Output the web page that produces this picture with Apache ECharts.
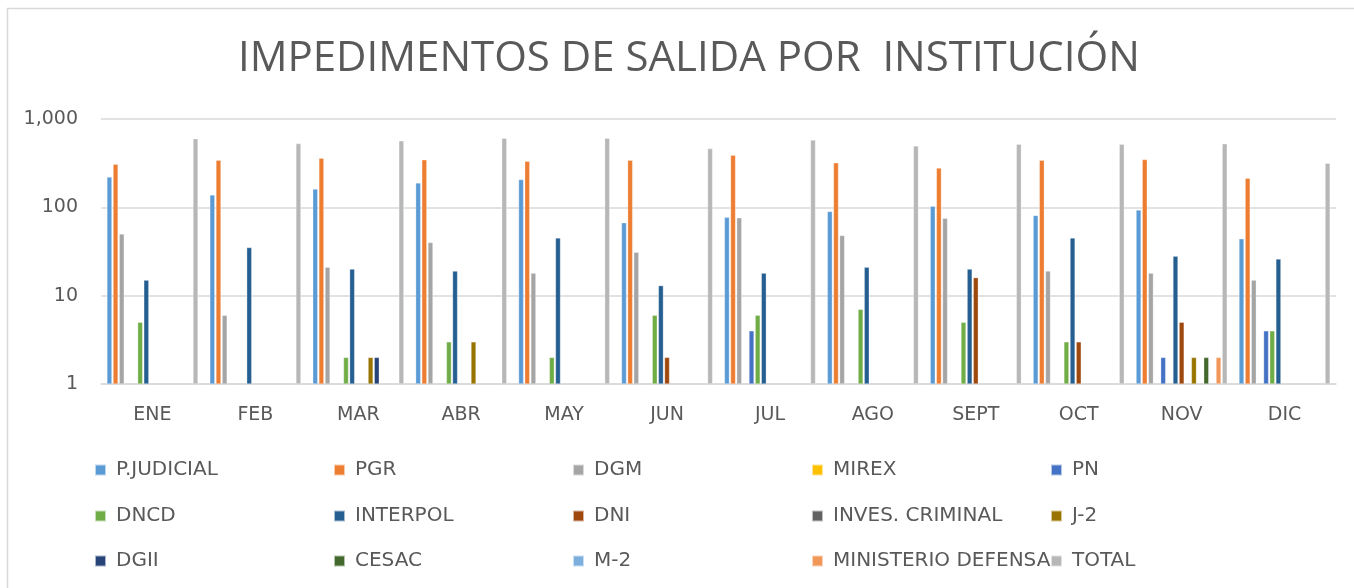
<!DOCTYPE html>
<html>
<head>
<meta charset="utf-8">
<script src="https://cdn.jsdelivr.net/npm/echarts@6/dist/echarts.min.js"></script>
<style>
	html, body { margin: 0; padding: 0; background: #fff; }
	#chart { width: 1354px; height: 588px; }
</style>
</head>
<body>
<div id="chart"></div>
<script>
const months = ["ENE", "FEB", "MAR", "ABR", "MAY", "JUN", "JUL", "AGO", "SEPT", "OCT", "NOV", "DIC"];
const yTicks = [1, 10, 100, 1000];

// '-' = no value that month
const pJudicial = [220, 138, 161, 189, 206, 67, 77, 90, 103, 81, 93, 44];
const pgr = [308, 342, 360, 345, 333, 342, 389, 319, 278, 342, 347, 214];
const dgm = [50, 6, 21, 40, 18, 31, 76, 48, 75, 19, 18, 15];
const mirex = ["-", "-", "-", "-", "-", "-", "-", "-", "-", "-", "-", "-"];
const pn = ["-", "-", "-", "-", "-", "-", 4, "-", "-", "-", 2, 4];
const dncd = [5, "-", 2, 3, 2, 6, 6, 7, 5, 3, "-", 4];
const interpol = [15, 35, 20, 19, 45, 13, 18, 21, 20, 45, 28, 26];
const dni = ["-", "-", "-", "-", "-", 2, "-", "-", 16, 3, 5, "-"];
const invesCriminal = ["-", "-", "-", "-", "-", "-", "-", "-", "-", "-", "-", "-"];
const j2 = ["-", "-", 2, 3, "-", "-", "-", "-", "-", "-", 2, "-"];
const dgii = ["-", "-", 2, "-", "-", "-", "-", "-", "-", "-", "-", "-"];
const cesac = ["-", "-", "-", "-", "-", "-", "-", "-", "-", "-", 2, "-"];
const m2 = ["-", "-", "-", "-", "-", "-", "-", "-", "-", "-", "-", "-"];
const ministerioDefensa = ["-", "-", "-", "-", "-", "-", "-", "-", "-", "-", 2, "-"];
const total = [598, 527, 566, 605, 606, 462, 578, 496, 519, 519, 523, 316];

const seriesDefs = [
	["P.JUDICIAL", pJudicial, "#5B9BD5"],
	["PGR", pgr, "#ED7D31"],
	["DGM", dgm, "#A5A5A5"],
	["MIREX", mirex, "#FFC000"],
	["PN", pn, "#4472C4"],
	["DNCD", dncd, "#70AD47"],
	["INTERPOL", interpol, "#255E91"],
	["DNI", dni, "#9E480E"],
	["INVES. CRIMINAL", invesCriminal, "#636363"],
	["J-2", j2, "#997300"],
	["DGII", dgii, "#264478"],
	["CESAC", cesac, "#43682B"],
	["M-2", m2, "#7CAFDD"],
	["MINISTERIO DEFENSA", ministerioDefensa, "#F1975A"],
	["TOTAL", total, "#B7B7B7"]
];

const font = "'DejaVu Sans', sans-serif";
const titleFont = "'Open Sans', 'Noto Sans', sans-serif";
const textColor = "#595959";

// one legend per entry so the five columns line up like the original
const legendRows = [460, 506, 551];
const legendColumn = 239;
const legends = seriesDefs.map(([name], i) => ({
	data: [name],
	left: 94 + (i % 5) * legendColumn,
	top: legendRows[Math.floor(i / 5)],
	padding: 0,
	itemWidth: 11,
	itemHeight: 11,
	icon: "rect",
	selectedMode: false,
	textStyle: {
		fontFamily: font,
		fontSize: 20,
		color: textColor,
		padding: [0, 0, 0, 5]
	}
}));

const chart = echarts.init(document.getElementById("chart"), null, { renderer: "canvas" });
chart.setOption({
	animation: false,
	backgroundColor: "#fff",
	color: seriesDefs.map(d => d[2]),
	title: {
		text: "IMPEDIMENTOS DE SALIDA POR  INSTITUCIÓN",
		left: 233,
		top: 33,
		textStyle: {
			fontFamily: titleFont,
			fontWeight: "normal",
			fontSize: 42,
			color: textColor
		}
	},
	graphic: [{
		type: "rect",
		shape: { x: 7.5, y: 8.5, width: 1400, height: 700 },
		style: { fill: "none", stroke: "#D9D9D9", lineWidth: 1.5 },
		silent: true
	}],
	legend: legends,
	grid: {
		left: 101,
		right: 18,
		top: 119,
		bottom: 204,
		containLabel: false
	},
	xAxis: {
		type: "category",
		data: months,
		axisLine: { lineStyle: { color: "#D9D9D9", width: 1.5 } },
		axisTick: { show: false },
		axisLabel: {
			fontFamily: font,
			fontSize: 19,
			color: textColor,
			margin: 22
		}
	},
	yAxis: {
		type: "log",
		logBase: 10,
		min: yTicks[0],
		max: yTicks[yTicks.length - 1],
		axisLine: { show: false },
		axisTick: { show: false },
		splitLine: { lineStyle: { color: "#D9D9D9", width: 1.5 } },
		axisLabel: {
			fontFamily: font,
			fontSize: 19,
			color: textColor,
			margin: 23,
			formatter: v => Number(v).toLocaleString("en-US")
		}
	},
	series: seriesDefs.map(([name, values]) => ({
		name,
		type: "bar",
		data: values,
		barWidth: 5,
		barGap: "23%",
		itemStyle: { borderColor: "rgba(255,255,255,0.6)", borderWidth: 0.5 }
	}))
});
</script>
</body>
</html>
